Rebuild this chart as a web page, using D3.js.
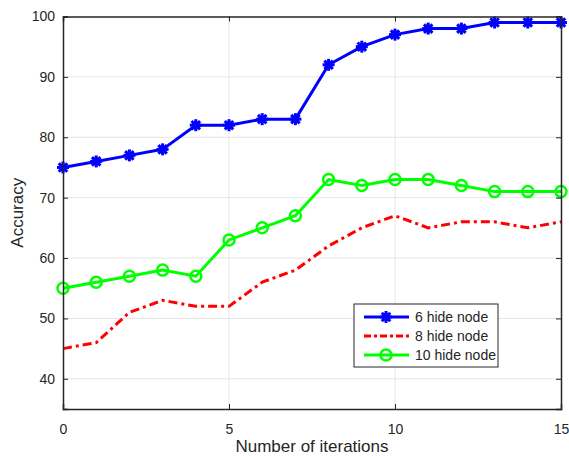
<html>
<head>
<meta charset="utf-8">
<style>
  body { margin: 0; background: #fff; }
  text { font-family: "Liberation Sans", Arial, sans-serif; fill: #262626; }
  .grid line { stroke: #e6e6e6; stroke-width: 1; }
</style>
</head>
<body>
<script src="https://cdn.jsdelivr.net/npm/d3@7"></script>
<script>
var iterations = d3.range(0, 16);
var node6 = [75, 76, 77, 78, 82, 82, 83, 83, 92, 95, 97, 98, 98, 99, 99, 99];
var node8 = [45, 46, 51, 53, 52, 52, 56, 58, 62, 65, 67, 65, 66, 66, 65, 66];
var node10 = [55, 56, 57, 58, 57, 63, 65, 67, 73, 72, 73, 73, 72, 71, 71, 71];
var xTicks = [0, 5, 10, 15];
var yTicks = [40, 50, 60, 70, 80, 90, 100];
var seriesNames = ["6 hide node", "8 hide node", "10 hide node"];

var width = 569, height = 457;
var margin = {left: 63, right: 8, top: 16.5, bottom: 48};

var x = d3.scaleLinear().domain([0, 15]).range([margin.left, width - margin.right]);
var y = d3.scaleLinear().domain([35, 100]).range([height - margin.bottom, margin.top]);

var svg = d3.select("body").append("svg")
    .attr("width", width)
    .attr("height", height);

// grid
var grid = svg.append("g").attr("class", "grid");
grid.selectAll(".gx").data(xTicks.slice(1, -1)).enter().append("line")
    .attr("x1", d => x(d)).attr("x2", d => x(d))
    .attr("y1", y(35)).attr("y2", y(100));
grid.selectAll(".gy").data(yTicks.slice(0, -1)).enter().append("line")
    .attr("x1", x(0)).attr("x2", x(15))
    .attr("y1", d => y(d)).attr("y2", d => y(d));

var series = [
    {name: seriesNames[0], values: node6, color: "#0000ff", dash: null, marker: "star"},
    {name: seriesNames[1], values: node8, color: "#ff0000", dash: "9,4,3,4", marker: null},
    {name: seriesNames[2], values: node10, color: "#00ff00", dash: null, marker: "circle"}
];

var line = d3.line().x((d, i) => x(iterations[i])).y(d => y(d));

function drawStar(g, cx, cy, color) {
    var r = 6;
    for (var k = 0; k < 4; k++) {
        var a = k * Math.PI / 4;
        g.append("line")
            .attr("x1", cx - r * Math.cos(a)).attr("y1", cy - r * Math.sin(a))
            .attr("x2", cx + r * Math.cos(a)).attr("y2", cy + r * Math.sin(a))
            .attr("stroke", color).attr("stroke-width", 3);
    }
    g.append("circle").attr("cx", cx).attr("cy", cy).attr("r", 4).attr("fill", color);
}

function drawCircle(g, cx, cy, color) {
    g.append("circle").attr("cx", cx).attr("cy", cy).attr("r", 5.5)
        .attr("fill", "none").attr("stroke", color).attr("stroke-width", 2.5);
}

var plot = svg.append("g");
series.forEach(function(s) {
    plot.append("path")
        .datum(s.values)
        .attr("d", line)
        .attr("fill", "none")
        .attr("stroke", s.color)
        .attr("stroke-width", 3)
        .attr("stroke-dasharray", s.dash);
    var mg = plot.append("g");
    s.values.forEach(function(v, i) {
        if (s.marker === "star") drawStar(mg, x(iterations[i]), y(v), s.color);
        if (s.marker === "circle") drawCircle(mg, x(iterations[i]), y(v), s.color);
    });
});

// axes box
var axisColor = "#262626";
var xAxis = d3.axisBottom(x).tickValues(xTicks).tickSize(-5).tickPadding(15);
var yAxis = d3.axisLeft(y).tickValues(yTicks).tickSize(-5).tickPadding(8);

var gx = svg.append("g").attr("transform", "translate(0," + y(35) + ")").call(xAxis);
var gy = svg.append("g").attr("transform", "translate(" + x(0) + ",0)").call(yAxis);
svg.append("g").attr("transform", "translate(0," + y(100) + ")")
    .call(d3.axisTop(x).tickValues(xTicks).tickSize(-5).tickFormat(""));
svg.append("g").attr("transform", "translate(" + x(15) + ",0)")
    .call(d3.axisRight(y).tickValues(yTicks).tickSize(-5).tickFormat(""));

svg.selectAll(".domain").attr("stroke", axisColor).attr("stroke-width", 1.5);
svg.selectAll(".tick line").attr("stroke", axisColor);
svg.selectAll(".tick text").style("font-size", "14px").attr("fill", axisColor);

// labels
svg.append("text")
    .attr("x", (x(0) + x(15)) / 2).attr("y", 452)
    .attr("text-anchor", "middle")
    .style("font-size", "17px")
    .text("Number of iterations");
svg.append("text")
    .attr("transform", "translate(23," + ((y(35) + y(100)) / 2) + ") rotate(-90)")
    .attr("text-anchor", "middle")
    .style("font-size", "17px")
    .text("Accuracy");

// legend
var lg = svg.append("g").attr("transform", "translate(354,304)");
lg.append("rect").attr("width", 144).attr("height", 63)
    .attr("fill", "#fff").attr("stroke", axisColor).attr("stroke-width", 1);
series.forEach(function(s, i) {
    var cy = 13 + i * 19;
    lg.append("line")
        .attr("x1", 10).attr("x2", 55).attr("y1", cy).attr("y2", cy)
        .attr("stroke", s.color).attr("stroke-width", 3)
        .attr("stroke-dasharray", s.dash ? "7,3,3,3" : null);
    if (s.marker === "star") drawStar(lg, 32, cy, s.color);
    if (s.marker === "circle") drawCircle(lg, 32, cy, s.color);
    lg.append("text").attr("x", 61).attr("y", cy + 5)
        .style("font-size", "14px")
        .text(s.name);
});
</script>
</body>
</html>
